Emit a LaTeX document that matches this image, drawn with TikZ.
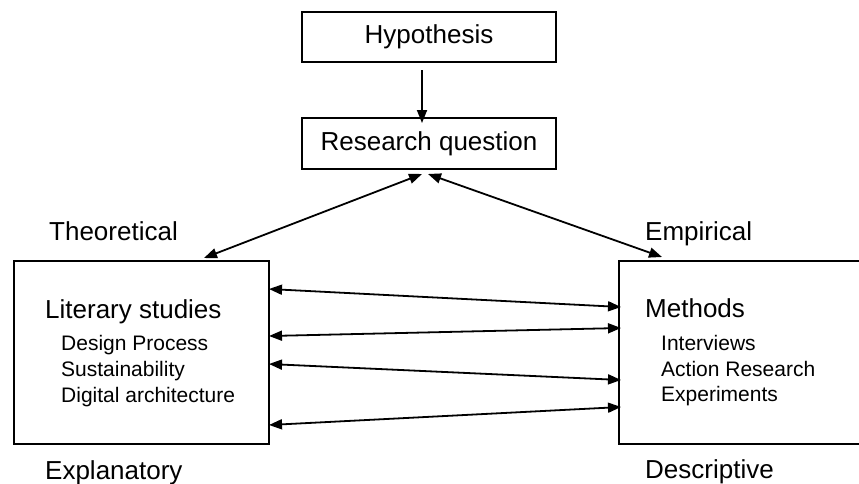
\documentclass[tikz,border=0pt]{standalone}
\usepackage{fontspec}
\setmainfont{Liberation Sans}
\usepackage{tikz}
\usetikzlibrary{arrows.meta}

\begin{document}
\begin{tikzpicture}[x=1pt,y=-1pt,
	box/.style={draw, line width=2pt, inner sep=0pt, font=\fontsize{26}{30}\selectfont},
	big/.style={anchor=base west, inner sep=0pt, font=\fontsize{26}{30}\selectfont},
	item/.style={anchor=base west, inner sep=0pt, font=\fontsize{21}{25}\selectfont},
	arr/.style={line width=1.8pt, -{Triangle[length=13pt,width=10pt]}},
	twoarr/.style={line width=1.8pt, {Triangle[length=13pt,width=10pt]}-{Triangle[length=13pt,width=10pt]}}]
	
	\clip (0,0) rectangle (859,483);
	
	% top boxes
	\node[box, minimum width=254pt, minimum height=50pt] (hyp) at (429,37) {Hypothesis};
	\node[box, minimum width=254pt, minimum height=51pt] (rq) at (429,143.5) {Research question};
	
	% side boxes
	\node[box, minimum width=255pt, minimum height=183pt] (lit) at (141.5,352.5) {};
	\node[box, minimum width=260pt, minimum height=183pt] (meth) at (749,352.5) {};
	
	% labels round the boxes
	\node[big] (theo) at (49,240) {Theoretical};
	\node[big] (emp) at (645,240) {Empirical};
	\node[big] (expl) at (45,479) {Explanatory};
	\node[big] (desc) at (645,478) {Descriptive};
	
	% box contents
	\node[big] (littitle) at (45,318) {Literary studies};
	\node[item] (lit1) at (61,350) {Design Process};
	\node[item] (lit2) at (61,376) {Sustainability};
	\node[item] (lit3) at (61,402) {Digital architecture};
	
	\node[big] (methtitle) at (645,317) {Methods};
	\node[item] (meth1) at (661,350) {Interviews};
	\node[item] (meth2) at (661,376) {Action Research};
	\node[item] (meth3) at (661,401) {Experiments};
	
	% connectors
	\draw[arr] ([xshift=-7pt,yshift=-7pt]hyp.south) -- ([xshift=-7pt,yshift=-6pt]rq.north);
	\draw[twoarr] ([xshift=-7pt,yshift=-4pt]rq.south) -- ([xshift=62.5pt,yshift=2pt]lit.north);
	\draw[twoarr] ([xshift=-1pt,yshift=-4pt]rq.south) -- ([xshift=44pt,yshift=3pt]meth.north west);
	\foreach \l/\r in {63.5/45.5, 16.5/24.5, -11.5/-27.5, -72.5/-54.5}
	\draw[twoarr] ([xshift=-1pt,yshift=\l pt]lit.east) -- ([xshift=3pt,yshift=\r pt]meth.west);
	
\end{tikzpicture}
\end{document}
